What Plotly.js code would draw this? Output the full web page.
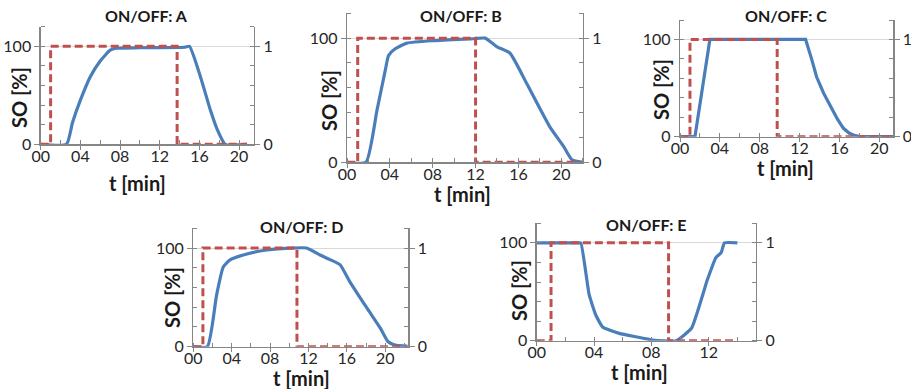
<!DOCTYPE html>
<html>
<head>
<meta charset="utf-8">
<script src="https://cdn.plot.ly/plotly-3.0.1.min.js"></script>
<style>html,body{margin:0;padding:0;background:#fff;}#chart{width:911px;height:389px;}</style>
</head>
<body>
<div id="chart"></div>
<script>
// ---------- DATA ----------
const panelTitles = ["ON/OFF: A", "ON/OFF: B", "ON/OFF: C", "ON/OFF: D", "ON/OFF: E"];
const xTitle = "t [min]";
const yTitle = "SO [%]";

const xTickVals = [0, 4, 8, 12, 16, 20];
const xTickText = ["00", "04", "08", "12", "16", "20"];
const xTickValsE = [0, 4, 8, 12];
const xTickTextE = ["00", "04", "08", "12"];
const yTickVals = [0, 100];
const yTickText = ["0", "100"];
const y2TickVals = [0, 1];
const y2TickText = ["0", "1"];

// Panel A
const tA_SO = [0, 2.6, 3.2, 4.0, 5.0, 6.0, 7.0, 7.6, 10.0, 14.5, 15.0, 16.1, 17.1, 17.8, 18.6, 20.8];
const soA   = [0, 0, 22, 45, 69, 85, 96, 98, 98.5, 99, 100, 69, 35, 15, 0, 0];
const tA_on = [0, 1, 1, 13.75, 13.75, 20.8];
const onA   = [0, 0, 1, 1, 0, 0];

// Panel B
const tB_SO = [0, 1.77, 2.8, 3.57, 3.88, 4.5, 5.6, 8.1, 11.8, 12.9, 14.0, 15.2, 16.8, 18.9, 20.2, 21.0, 22.0];
const soB   = [0, 0, 42, 74, 86, 91.4, 96, 98, 99.5, 100, 93, 88, 63, 29, 13, 2, 0];
const tB_on = [0, 1, 1, 12, 12, 21.8];
const onB   = [0, 0, 1, 1, 0, 0];

// Panel C
const tC_SO = [0, 1.5, 3.0, 12.6, 13.2, 13.7, 14.4, 15.1, 15.8, 16.4, 17.0, 17.4, 18.1, 21.4];
const soC   = [0, 0, 100, 100, 80, 61.6, 45, 30.8, 18, 8.6, 3.5, 1.7, 0, 0];
const tC_on = [0, 1, 1, 9.75, 9.75, 21.4];
const onC   = [0, 0, 1, 1, 0, 0];

// Panel D
const tD_SO = [0, 1.46, 2.43, 3.13, 3.83, 5.2, 7.65, 10.4, 11.8, 13.2, 14.3, 15.3, 16.3, 18.1, 19.5, 20.3, 21.0, 22.3];
const soD   = [0, 0, 52.5, 81, 88, 93, 98, 100, 100, 93, 88, 83, 66, 39, 18.6, 5, 1.7, 0.7];
const tD_on = [0, 1, 1, 10.8, 10.8, 22.3];
const onD   = [0, 0, 1, 1, 0, 0];

// Panel E
const tE_SO = [0, 2.9, 3.08, 3.66, 4.13, 4.6, 5.76, 6.92, 8.1, 9.72, 10.8, 11.9, 12.5, 12.87, 13.1, 14.0];
const soE   = [100, 100, 100, 47, 26, 14, 7.5, 4, 0.7, 0, 12.7, 62, 85, 90, 100, 100];
const tE_on = [0, 1, 1, 9.2, 9.2, 13.7];
const onE   = [0, 0, 1, 1, 0, 0];

const xRanges = [[0, 21.5], [0, 22], [0, 21.4], [0, 22.4], [0, 15.3]];

// ---------- LAYOUT ----------
const W = 911, H = 389;
const FONT = "Lato, 'Open Sans', 'Liberation Sans', sans-serif";
const AX = "#868686";
const BLUE = "#4a7ebb";
const RED = "#c0504d";
const TICK_SIZE = 16;
const TITLE_SIZE = 16;
const AXTITLE_SIZE = 20;

// pixel boxes: [left, right, bottomY(value 0), topY(value 120)]
const boxes = [
  [40.7, 254, 144.3, 26.7],
  [347, 582.7, 162.3, 13.3],
  [680, 893.3, 136.7, 20],
  [193.3, 408.3, 346.7, 228.3],
  [536.7, 756, 340.7, 223.3]
];
const titlePos = [[146, 15], [461, 15], [786, 15], [302, 226], [646, 224]];
const xTitlePos = [[137, 183], [462, 194], [785, 168], [301, 378], [639, 372]];
const yTitlePos = [[19, 98], [329, 101], [661, 90], [172, 298], [519, 291]];
const smooth = [0.5, 0.5, 0, 0.5, 0.4];

const sets = [
  [tA_SO, soA, tA_on, onA, xTickVals, xTickText],
  [tB_SO, soB, tB_on, onB, xTickVals, xTickText],
  [tC_SO, soC, tC_on, onC, xTickVals, xTickText],
  [tD_SO, soD, tD_on, onD, xTickVals, xTickText],
  [tE_SO, soE, tE_on, onE, xTickValsE, xTickTextE]
];

const px = v => v / W;
const py = v => 1 - v / H;

const traces = [];
const layout = {
  width: W, height: H, autosize: false,
  margin: {l: 0, r: 0, t: 0, b: 0, pad: 0},
  paper_bgcolor: "#fff", plot_bgcolor: "rgba(0,0,0,0)",
  showlegend: false,
  font: {family: FONT, size: TICK_SIZE, color: "#262626"},
  annotations: []
};

sets.forEach((s, i) => {
  const n = i + 1;
  const xk = n === 1 ? "x" : "x" + n;
  const yk = "y" + (2 * n - 1 === 1 ? "" : (2 * n - 1));
  const y2k = "y" + (2 * n);
  const xName = n === 1 ? "xaxis" : "xaxis" + n;
  const yName = 2 * n - 1 === 1 ? "yaxis" : "yaxis" + (2 * n - 1);
  const y2Name = "yaxis" + (2 * n);
  const b = boxes[i];

  const blueLine = smooth[i] > 0
    ? {color: BLUE, width: 3.2, shape: "spline", smoothing: smooth[i]}
    : {color: BLUE, width: 3.2};
  traces.push({
    x: s[0], y: s[1], xaxis: xk, yaxis: yk, type: "scatter", mode: "lines",
    line: blueLine, hoverinfo: "skip"
  });
  traces.push({
    x: s[2], y: s[3], xaxis: xk, yaxis: y2k, type: "scatter", mode: "lines",
    line: {color: RED, width: 3, dash: "8px,4px"}, hoverinfo: "skip"
  });

  layout[xName] = {
    domain: [px(b[0]), px(b[1])], anchor: yk, range: xRanges[i],
    tickmode: "array", tickvals: s[4], ticktext: s[5],
    ticks: "outside", ticklen: 4, tickcolor: AX, tickwidth: 1,
    ticklabelstandoff: -7,
    showline: true, linecolor: AX, linewidth: 1.3, showgrid: false, zeroline: false,
    minor: {tickmode: "linear", tick0: 0, dtick: 2, ticks: "inside", ticklen: 4, tickcolor: AX, showgrid: false},
    tickfont: {family: FONT, size: TICK_SIZE, color: "#262626"}
  };
  layout[yName] = {
    domain: [py(b[2]), py(b[3])], anchor: xk, range: [0, 120],
    tickmode: "array", tickvals: yTickVals, ticktext: yTickText,
    ticks: "outside", ticklen: 5, tickcolor: AX,
    showline: true, linecolor: AX, linewidth: 1.3,
    showgrid: true, gridcolor: "#d9d9d9", gridwidth: 1, zeroline: false,
    minor: {tickmode: "linear", tick0: 0, dtick: 20, ticks: "inside", ticklen: 4, tickcolor: AX, showgrid: false},
    tickfont: {family: FONT, size: TICK_SIZE, color: "#262626"}
  };
  layout[y2Name] = {
    overlaying: yk, side: "right", anchor: xk, range: [0, 1.2],
    tickmode: "array", tickvals: y2TickVals, ticktext: y2TickText,
    ticks: "outside", ticklen: 5, tickcolor: AX,
    showline: true, linecolor: AX, linewidth: 1.3,
    showgrid: false, zeroline: false,
    minor: {tickmode: "linear", tick0: 0, dtick: 0.2, ticks: "inside", ticklen: 4, tickcolor: AX, showgrid: false},
    tickfont: {family: FONT, size: TICK_SIZE, color: "#262626"}
  };

  layout.annotations.push({
    text: "<b>" + panelTitles[i] + "</b>", xref: "paper", yref: "paper",
    x: px(titlePos[i][0]), y: py(titlePos[i][1]), xanchor: "center", yanchor: "middle",
    showarrow: false, font: {family: FONT, size: TITLE_SIZE, color: "#1a1a1a"}
  });
  layout.annotations.push({
    text: "<b>" + xTitle + "</b>", xref: "paper", yref: "paper",
    x: px(xTitlePos[i][0]), y: py(xTitlePos[i][1]), xanchor: "center", yanchor: "middle",
    showarrow: false, font: {family: FONT, size: AXTITLE_SIZE, color: "#1a1a1a"}
  });
  layout.annotations.push({
    text: "<b>" + yTitle + "</b>", xref: "paper", yref: "paper", textangle: -90,
    x: px(yTitlePos[i][0]), y: py(yTitlePos[i][1]), xanchor: "center", yanchor: "middle",
    showarrow: false, font: {family: FONT, size: AXTITLE_SIZE, color: "#1a1a1a"}
  });
});

Plotly.newPlot("chart", traces, layout, {staticPlot: true, displayModeBar: false});
</script>
</body>
</html>
